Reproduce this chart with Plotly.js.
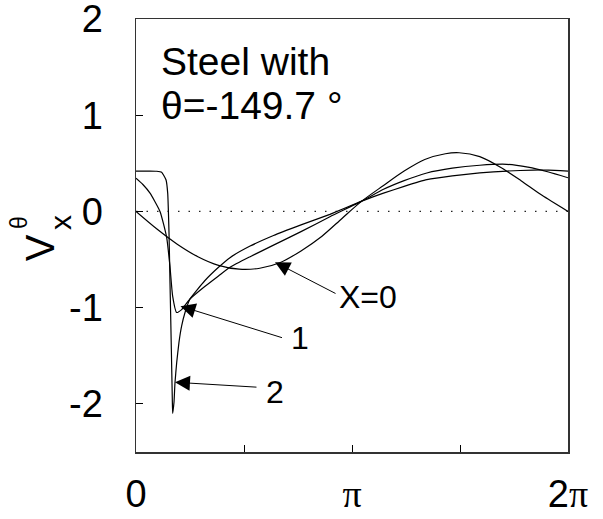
<!DOCTYPE html>
<html>
<head>
<meta charset="utf-8">
<script src="https://cdn.plot.ly/plotly-3.0.1.min.js"></script>
<style>html,body{margin:0;padding:0;background:#fff;}#chart{width:603px;height:519px;}</style>
</head>
<body>
<div id="chart"></div>
<script>
// X = 0 curve
const x0 = [0, 0.3, 0.6, 0.9, 1.2, 1.5, 1.8, 2.1, 2.4, 2.7, 3.0, 3.283, 3.6, 3.9, 4.2, 4.5, 4.7, 5.0, 5.3, 5.6, 5.9, 6.2832];
const y0 = [0, -0.18, -0.34, -0.47, -0.56, -0.60, -0.59, -0.53, -0.41, -0.26, -0.07, 0.107, 0.27, 0.42, 0.54, 0.60, 0.61, 0.57, 0.46, 0.32, 0.17, 0];
// X = 1 curve
const x1 = [0, 0.1, 0.204, 0.349, 0.446, 0.494, 0.533, 0.591, 0.664, 0.785, 1.0, 1.2, 1.367, 1.66, 2.0, 2.4, 2.82, 3.283, 3.6, 3.9, 4.23, 4.6, 5.0, 5.39, 5.7, 6.0, 6.2832];
const y1 = [0.345, 0.28, 0.19, 0.0, -0.27, -0.57, -0.88, -1.05, -1.02, -0.91, -0.78, -0.67, -0.58, -0.47, -0.35, -0.21, -0.055, 0.107, 0.23, 0.32, 0.40, 0.45, 0.48, 0.49, 0.46, 0.41, 0.35];
// X = 2 curve
const x2 = [0, 0.2, 0.3, 0.373, 0.436, 0.461, 0.48, 0.4945, 0.514, 0.528, 0.533, 0.553, 0.567, 0.592, 0.625, 0.664, 0.713, 0.785, 1.0, 1.2, 1.367, 1.66, 2.0, 2.4, 2.82, 3.283, 3.6, 3.9, 4.23, 4.6, 5.0, 5.4, 5.78, 6.0, 6.2832];
const y2 = [0.42, 0.42, 0.418, 0.408, 0.33, 0.19, -0.22, -0.74, -1.43, -1.95, -2.10, -1.98, -1.78, -1.57, -1.36, -1.19, -1.05, -0.91, -0.72, -0.58, -0.48, -0.36, -0.25, -0.14, -0.03, 0.107, 0.19, 0.26, 0.33, 0.37, 0.40, 0.42, 0.43, 0.43, 0.42];
// zero reference line
const xZero = [0, 6.2832];
const yZero = [0, 0];
// ticks
const xTickVals = [0, Math.PI / 2, Math.PI, 3 * Math.PI / 2, 2 * Math.PI];
const xTickText = ['0', '', '<span style="font-family:Liberation Serif">π</span>', '', '2<span style="font-family:Liberation Serif">π</span>'];
const yTickVals = [-2, -1, 0, 1, 2];
const yTickText = ['-2', '-1', '0', '1', '2'];

const FONT = 'Liberation Sans, Arial, sans-serif';
const line = {color: '#000', width: 1.2};

const traces = [
  {x: xZero, y: yZero, mode: 'lines', line: {color: '#222', width: 1.2, dash: '1.5px,9px'}, hoverinfo: 'skip'},
  {x: x0, y: y0, mode: 'lines', line: Object.assign({shape: 'spline', smoothing: 0.8}, line)},
  {x: x1, y: y1, mode: 'lines', line: Object.assign({shape: 'spline', smoothing: 0.5}, line)},
  {x: x2, y: y2, mode: 'lines', line: Object.assign({shape: 'spline', smoothing: 0.4}, line)}
];

const arrow = {showarrow: true, arrowhead: 2, arrowsize: 3, arrowwidth: 1, arrowcolor: '#000', text: '', xref: 'x', yref: 'y'};

const layout = {
  width: 603, height: 519,
  margin: {l: 136, r: 35, t: 19, b: 67},
  paper_bgcolor: '#fff', plot_bgcolor: '#fff',
  showlegend: false,
  font: {family: FONT, color: '#000'},
  xaxis: {
    range: [0, 2 * Math.PI], tickmode: 'array', tickvals: xTickVals, ticktext: xTickText,
    ticks: 'inside', ticklen: 7, tickwidth: 1, tickcolor: '#000',
    showline: true, linecolor: '#333', linewidth: 1.5, mirror: true,
    showgrid: false, zeroline: false, ticklabelstandoff: 8, ticklabeloverflow: 'allow',
    tickfont: {family: FONT, size: 38, color: '#000'}
  },
  yaxis: {
    range: [-2.5, 2.0001], tickmode: 'array', tickvals: yTickVals, ticktext: yTickText,
    ticks: 'inside', ticklen: 7, tickwidth: 1, tickcolor: '#000',
    showline: true, linecolor: '#333', linewidth: 1.5, mirror: true,
    showgrid: false, zeroline: false, ticklabelstandoff: 24, ticklabeloverflow: 'allow',
    tickfont: {family: FONT, size: 38, color: '#000'}
  },
  annotations: [
    {text: 'Steel with', x: 0.3345, y: 1.56, xref: 'x', yref: 'y', xanchor: 'left', yanchor: 'middle', showarrow: false, font: {family: FONT, size: 39, color: '#000'}},
    {text: 'θ=-149.7 °', x: 0.3345, y: 1.10, xref: 'x', yref: 'y', xanchor: 'left', yanchor: 'middle', showarrow: false, font: {family: FONT, size: 39, color: '#000'}},
    Object.assign({}, arrow, {x: 2.022, y: -0.528, ax: 62, ay: 32}),
    Object.assign({}, arrow, {x: 0.647, y: -0.984, ax: 103, ay: 32}),
    Object.assign({}, arrow, {x: 0.567, y: -1.775, ax: 83, ay: 5}),
    {text: 'X=0', x: 3.375, y: -0.886, xref: 'x', yref: 'y', showarrow: false, font: {family: FONT, size: 32, color: '#000'}},
    {text: '1', x: 2.385, y: -1.316, xref: 'x', yref: 'y', showarrow: false, font: {family: FONT, size: 32, color: '#000'}},
    {text: '2', x: 2.022, y: -1.876, xref: 'x', yref: 'y', showarrow: false, font: {family: FONT, size: 32, color: '#000'}},
    {text: 'V', x: -0.222, y: 0.471, xref: 'paper', yref: 'paper', xanchor: 'center', yanchor: 'middle', textangle: -90, showarrow: false, font: {family: FONT, size: 40, color: '#000'}},
    {text: 'x', x: -0.176, y: 0.531, xref: 'paper', yref: 'paper', xanchor: 'center', yanchor: 'middle', textangle: -90, showarrow: false, font: {family: FONT, size: 30, color: '#000'}},
    {text: 'θ', x: -0.271, y: 0.531, xref: 'paper', yref: 'paper', xanchor: 'center', yanchor: 'middle', textangle: -90, showarrow: false, font: {family: FONT, size: 23, color: '#000'}}
  ]
};

Plotly.newPlot('chart', traces, layout, {displayModeBar: false, staticPlot: true});
</script>
</body>
</html>
